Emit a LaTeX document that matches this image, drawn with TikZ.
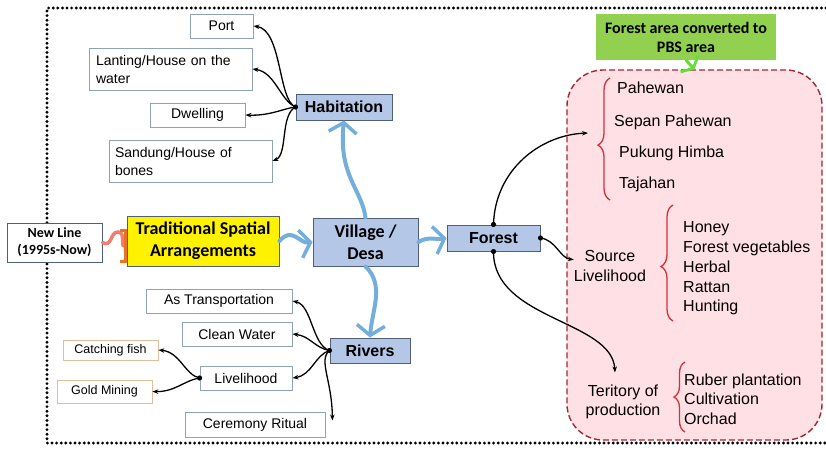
\documentclass[tikz,border=0pt]{standalone}
\usepackage{fontspec}
\setmainfont{Liberation Sans}
\newfontfamily\calibrifont{Carlito}
\usetikzlibrary{arrows.meta, decorations.pathreplacing}

\definecolor{hubblue}{HTML}{B4C7E7}
\definecolor{hubline}{HTML}{4F5F7A}
\definecolor{leafline}{HTML}{8FA2BC}
\definecolor{fishline}{HTML}{E2BE9A}
\definecolor{flowblue}{HTML}{74AEDB}
\definecolor{pbsgreen}{HTML}{92D050}
\definecolor{pbspink}{HTML}{FFE0E4}
\definecolor{pbsline}{HTML}{A3262E}
\definecolor{bracered}{HTML}{D2313C}
\definecolor{squigred}{HTML}{F07F72}
\definecolor{squigorange}{HTML}{E9731F}

\tikzstyle{leaf_box} = [rectangle, draw=leafline, fill=white, line width=0.8pt, inner sep=2pt, font=\fontsize{14}{18}\selectfont]
\tikzstyle{fish_box} = [rectangle, draw=fishline, fill=white, line width=0.8pt, inner sep=2pt, font=\fontsize{12.5}{15}\selectfont]
\tikzstyle{hub_box} = [rectangle, draw=hubline, fill=hubblue, line width=1pt, inner sep=2pt, font=\bfseries\fontsize{16}{19}\selectfont]
\tikzstyle{key_box} = [rectangle, draw=hubline, line width=1pt, inner sep=2pt, align=center, font=\calibrifont\bfseries\fontsize{18}{22}\selectfont]
\tikzstyle{area_text} = [inner sep=0pt, align=left, font=\fontsize{16}{19.7}\selectfont]
\tikzstyle{branch_arrow} = [line width=1.3pt, -{Stealth[length=6pt, width=4.5pt]}]
\tikzstyle{flow_arrow} = [line width=4pt, draw=flowblue, line cap=round, -{Straight Barb[length=10pt, width=28pt, line width=3.5pt]}]
\tikzstyle{red_brace} = [draw=bracered, line width=1.3pt, decorate]

\begin{document}
\begin{tikzpicture}[x=1pt, y=-1pt]
\useasboundingbox (0,0) rectangle (826,450);
\draw [line width=3.2pt, line cap=round, dash pattern=on 0pt off 4.6pt] (826,8) -- (47,8) -- (47,443) -- (826,443);

% forest area on the right
\node (pbs_area) [rectangle, rounded corners=36pt, draw=pbsline, fill=pbspink, line width=1.4pt, dash pattern=on 6pt off 3pt, minimum width=255pt, minimum height=370pt] at (694.5,255) {};
\node (pbs_note) [rectangle, fill=pbsgreen, minimum width=180pt, minimum height=46pt, align=center, font=\calibrifont\bfseries\fontsize{16}{19}\selectfont] at (686,37) {Forest area converted to\\PBS area};

\node (pahewan) [area_text, anchor=west] at (617,88) {Pahewan};
\node (sepan) [area_text, anchor=west] at (614,122) {Sepan Pahewan};
\node (pukung) [area_text, anchor=west] at (619,153) {Pukung Himba};
\node (tajahan) [area_text, anchor=west] at (619,184) {Tajahan};
\node (srclive) [area_text, align=center] at (610,266) {Source\\Livelihood};
\node (forest_goods) [area_text, anchor=west] at (683,268.5) {Honey\\Forest vegetables\\Herbal\\Rattan\\Hunting};
\node (terit) [area_text, align=center] at (623,402) {Teritory of\\production};
\node (plantings) [area_text, anchor=west] at (684,399) {Ruber plantation\\Cultivation\\Orchad};
\coordinate (pahewan_brace) at (588,133);

\draw [red_brace, decoration={brace, amplitude=12pt, aspect=0.45}] (610,200) -- (610,78);
\draw [red_brace, decoration={brace, amplitude=12pt, aspect=0.47}] (673,321) -- (673,205);
\draw [red_brace, decoration={brace, amplitude=11pt, aspect=0.5}] (685,432) -- (685,362);

% habitation branch
\node (port) [leaf_box, minimum width=63pt, minimum height=24pt] at (221.5,26) {Port};
\node (lanting) [leaf_box, minimum width=163pt, minimum height=42pt, text width=149pt, align=left] at (170.5,69) {Lanting/House on the\\water};
\node (dwelling) [leaf_box, minimum width=95pt, minimum height=24pt] at (197.5,115) {Dwelling};
\node (sandung) [leaf_box, minimum width=163pt, minimum height=42pt, text width=151pt, align=left] at (190.5,161) {Sandung/House of\\bones};
\node (habitation) [hub_box, minimum width=96pt, minimum height=26pt] at (344,107) {Habitation};

% main line
\node (newline) [key_box, fill=white, minimum width=95pt, minimum height=39pt, font=\calibrifont\bfseries\fontsize{14}{17}\selectfont] at (54.5,242.5) {New Line\\(1995s-Now)};
\node (trad) [key_box, fill=yellow, minimum width=152pt, minimum height=50pt] at (203,241) {Traditional Spatial\\Arrangements};
\node (village) [key_box, fill=hubblue, minimum width=105pt, minimum height=48pt] at (365.5,242) {Village /\\Desa};
\node (forest) [hub_box, minimum width=93pt, minimum height=26pt] at (493.5,238) {Forest};

% rivers branch
\node (rivers) [hub_box, minimum width=80pt, minimum height=25pt] at (370,350.5) {Rivers};
\node (transport) [leaf_box, minimum width=146pt, minimum height=24pt] at (219,301) {As Transportation};
\node (cleanwater) [leaf_box, minimum width=110pt, minimum height=24pt] at (237,334) {Clean Water};
\node (livelihood) [leaf_box, minimum width=92pt, minimum height=24pt] at (246,378) {Livelihood};
\node (ceremony) [leaf_box, minimum width=140pt, minimum height=25pt] at (255,424.5) {Ceremony Ritual};
\node (catchfish) [fish_box, minimum width=95pt, minimum height=20pt] at (110.5,350) {Catching fish};
\node (goldmining) [fish_box, minimum width=95pt, minimum height=23pt] at (104.5,391.5) {Gold Mining};

% thick hand drawn flows
\draw [flow_arrow] (village.north) .. controls (362,190) and (338,175) .. (habitation.south);
\draw [flow_arrow] (trad.east) .. controls (292,226) and (300,244) .. (village.west);
\draw [flow_arrow] (village.east) .. controls (428,236) and (436,240) .. (forest.west);
\draw [flow_arrow] (village.south) .. controls (385,285) and (372,310) .. (rivers.north);
\draw [line width=3.5pt, draw=squigred, line cap=round, -{Bracket[width=34pt, length=5pt, line width=2.8pt, color=squigorange]}] (newline.east) .. controls (112,248) and (110,232) .. (118,232) .. controls (126,232) and (120,246) .. ([yshift=-5pt]trad.west);
\draw [line width=3pt, draw=pbsgreen!70!green, line cap=round, -{Straight Barb[length=6pt, width=24pt, line width=2.8pt]}] (pbs_note.south) -- (pbs_area.north);

% thin branches with start dots
\fill (habitation.west) circle (2.6pt);
\draw [branch_arrow] (habitation.west) .. controls (278,100) and (282,30) .. (port.east);
\draw [branch_arrow] (habitation.west) .. controls (280,100) and (275,72) .. (lanting.east);
\draw [branch_arrow] (habitation.west) .. controls (285,108) and (270,116) .. (dwelling.east);
\draw [branch_arrow] (habitation.west) .. controls (280,115) and (288,155) .. (sandung.east);

\fill (rivers.west) circle (2.6pt);
\draw [branch_arrow] (rivers.west) .. controls (312,345) and (312,305) .. (transport.east);
\draw [branch_arrow] (rivers.west) .. controls (315,348) and (310,336) .. (cleanwater.east);
\draw [branch_arrow] (rivers.west) .. controls (315,355) and (312,375) .. (livelihood.east);
\draw [branch_arrow] (rivers.west) .. controls (318,360) and (332,380) .. ([xshift=7pt, yshift=4pt]ceremony.east);

\fill (livelihood.west) circle (2.6pt);
\draw [branch_arrow] (livelihood.west) .. controls (185,375) and (180,352) .. (catchfish.east);
\draw [branch_arrow] (livelihood.west) .. controls (185,380) and (175,392) .. (goldmining.east);

\fill (forest.north) circle (2.6pt);
\fill (forest.east) circle (2.6pt);
\fill (forest.south) circle (2.6pt);
\draw [branch_arrow] (forest.north) .. controls (495,170) and (540,135) .. (pahewan_brace);
\draw [branch_arrow] (forest.east) .. controls (556,240) and (560,258) .. (srclive.170);
\draw [branch_arrow] (forest.south) .. controls (493,320) and (612,320) .. ([xshift=-8pt, yshift=12pt]terit.north);
\end{tikzpicture}
\end{document}
